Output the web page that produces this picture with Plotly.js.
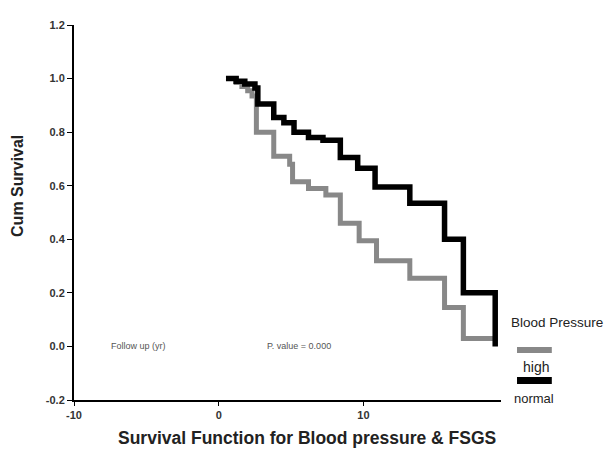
<!DOCTYPE html>
<html>
<head>
<meta charset="utf-8">
<script src="https://cdn.plot.ly/plotly-3.0.1.min.js"></script>
<style>html,body{margin:0;padding:0;background:#fff;}#chart{width:606px;height:450px;}</style>
</head>
<body>
<div id="chart"></div>
<script>
// Follow-up time (years) and cumulative survival
const highTime = [0.5, 1.2, 1.6, 2.0, 2.3, 2.6, 3.8, 4.9, 5.1, 6.2, 7.4, 8.4, 9.7, 10.9, 13.2, 15.6, 16.9, 19.1];
const highSurv = [1.0, 0.985, 0.97, 0.955, 0.935, 0.80, 0.71, 0.68, 0.615, 0.59, 0.565, 0.46, 0.395, 0.32, 0.255, 0.145, 0.03, 0.03];
const normalTime = [0.5, 1.2, 1.8, 2.5, 2.7, 3.8, 4.5, 5.2, 6.2, 7.2, 8.4, 9.6, 10.8, 13.2, 15.6, 16.9, 19.1];
const normalSurv = [1.0, 0.99, 0.98, 0.965, 0.905, 0.855, 0.835, 0.80, 0.78, 0.77, 0.705, 0.665, 0.595, 0.535, 0.40, 0.20, 0.0];
const groupNames = ["high", "normal"];
const xTicks = [-10, 0, 10];
const yTicks = [-0.2, 0.0, 0.2, 0.4, 0.6, 0.8, 1.0, 1.2];

const traces = [
  {x: highTime, y: highSurv, name: groupNames[0], mode: "lines", line: {shape: "hv", color: "#888888", width: 5}},
  {x: normalTime, y: normalSurv, name: groupNames[1], mode: "lines", line: {shape: "hv", color: "#000000", width: 5.5}}
];

const FAM = "Liberation Sans, Arial, sans-serif";
const tickFont = {family: FAM, size: 11, color: "#333", weight: "bold"};
function note(text, x, y, size, extra) {
  return Object.assign({text: text, xref: "paper", yref: "paper", x: x, y: y, xanchor: "center", yanchor: "middle",
    showarrow: false, font: {family: FAM, size: size, color: "#222"}}, extra || {});
}
const layout = {
  width: 606, height: 450,
  margin: {l: 74, r: 105, t: 25, b: 50},
  paper_bgcolor: "#fff", plot_bgcolor: "#fff",
  showlegend: false,
  xaxis: {
    range: [-10, 19.5], tickvals: xTicks, ticktext: xTicks.map(String),
    showgrid: false, zeroline: false, showline: true, linecolor: "#000", linewidth: 2,
    ticks: "outside", ticklen: 4, tickwidth: 1, tickcolor: "#000", tickfont: tickFont
  },
  yaxis: {
    range: [-0.2, 1.2], tickvals: yTicks, ticktext: yTicks.map(v => v.toFixed(1)),
    showgrid: false, zeroline: false, showline: true, linecolor: "#000", linewidth: 2,
    ticks: "outside", ticklen: 5, tickwidth: 1, tickcolor: "#000", tickfont: tickFont
  },
  annotations: [
    note("<b>Survival Function for Blood pressure &amp; FSGS</b>", 0.546, -0.101, 17.5),
    note("<b>Cum Survival</b>", -0.131, 0.571, 16, {textangle: -90}),
    note("Follow up (yr)", 0.15, 0.144, 9, {font: {family: FAM, size: 9, color: "#555"}}),
    note("P. value = 0.000", 0.527, 0.144, 9, {font: {family: FAM, size: 9, color: "#555"}}),
    note("Blood Pressure", 1.13, 0.208, 13.5),
    note(groupNames[0], 1.082, 0.088, 14),
    note(groupNames[1], 1.077, 0.005, 13)
  ],
  shapes: [
    {type: "rect", xref: "paper", yref: "paper", x0: 1.0375, x1: 1.119, y0: 0.1253, y1: 0.1413, fillcolor: "#888888", line: {width: 0}},
    {type: "rect", xref: "paper", yref: "paper", x0: 1.0375, x1: 1.119, y0: 0.0427, y1: 0.0613, fillcolor: "#000000", line: {width: 0}}
  ]
};

Plotly.newPlot("chart", traces, layout, {displayModeBar: false, staticPlot: true});
</script>
</body>
</html>
